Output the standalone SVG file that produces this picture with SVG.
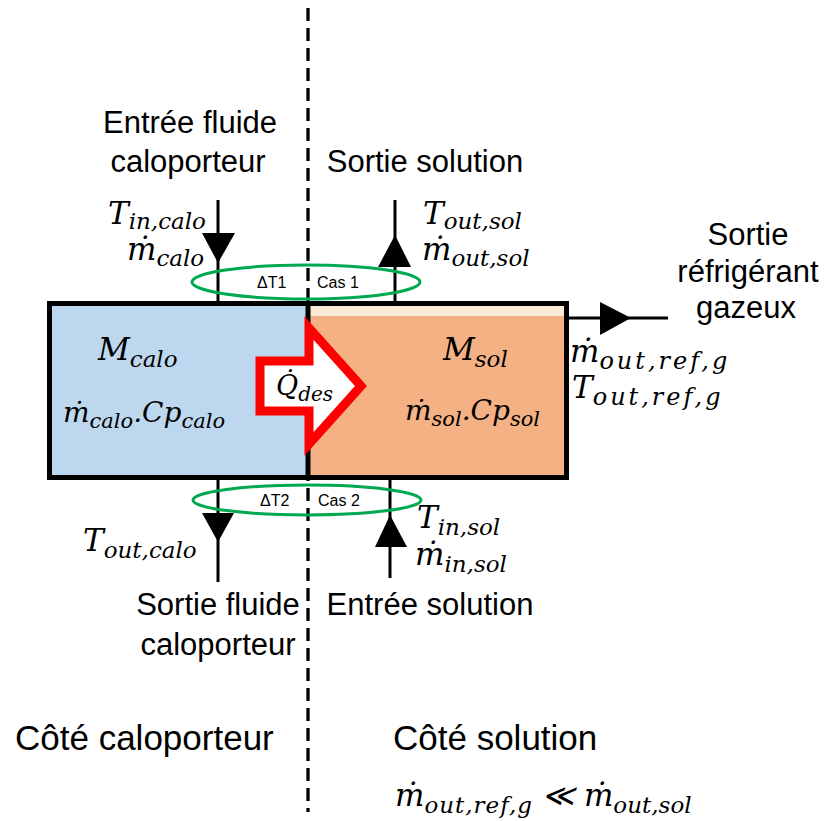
<svg xmlns="http://www.w3.org/2000/svg" width="831" height="821" viewBox="0 0 831 821">
<style>
.lbl{font-family:"Liberation Sans",Arial,sans-serif;font-size:31px;fill:#000;text-anchor:middle}
.big{font-family:"Liberation Sans",Arial,sans-serif;font-size:35px;fill:#000}
.sm{font-family:"Liberation Sans",Arial,sans-serif;font-size:16px;fill:#000}
.m{font-family:"DejaVu Serif","Liberation Serif",serif;font-style:italic;font-size:31px;fill:#000}
.s{font-size:23px}
.mb{font-size:28px}
.sb{font-size:21px}
.sr{font-size:24px;letter-spacing:3px}
.ln{stroke:#000;stroke-width:3;fill:none}
.ell{fill:none;stroke:#00A84F;stroke-width:3}
.head{fill:#000}
</style>
<rect width="831" height="821" fill="#fff"/>
<line x1="308" y1="8" x2="308" y2="812" stroke="#000" stroke-width="3.3" stroke-dasharray="13,7"/>
<g id="box">
<rect x="49.5" y="303.5" width="258.5" height="174" fill="#BDD7EE"/>
<rect x="308" y="303.5" width="258.5" height="174" fill="#F4B183"/>
<rect x="310" y="306" width="254" height="10" fill="#FBEBD6"/>
<line x1="308" y1="303.5" x2="308" y2="477.5" stroke="#000" stroke-width="5"/>
<rect x="49.5" y="303.5" width="517" height="174" fill="none" stroke="#000" stroke-width="5"/>
<text class="m" x="98" y="360">M<tspan class="s" dy="7">calo</tspan></text>
<text class="m mb" x="63" y="422">ṁ<tspan class="sb" dy="6">calo</tspan><tspan dy="-6">.Cp</tspan><tspan class="sb" dy="6">calo</tspan></text>
<text class="m" x="443" y="360">M<tspan class="s" dy="7">sol</tspan></text>
<text class="m mb" x="405" y="420">ṁ<tspan class="sb" dy="6">sol</tspan><tspan dy="-6">.Cp</tspan><tspan class="sb" dy="6">sol</tspan></text>
</g>
<g id="heat-arrow">
<path d="M260,361 H309 V328 L361,386 L309,444 V411 H260 Z" fill="#fff" stroke="#FF0000" stroke-width="9" stroke-linejoin="miter"/>
<text class="m" x="276" y="395" style="font-size:27px">Q̇<tspan style="font-size:20px" dy="6">des</tspan></text>
</g>
<g id="connectors">
<line class="ln" x1="218" y1="200" x2="218" y2="303"/>
<polygon class="head" points="202,233 235,233 218,263"/>
<line class="ln" x1="395" y1="200" x2="395" y2="303"/>
<polygon class="head" points="378,267 411,267 395,235"/>
<line class="ln" x1="218" y1="478" x2="218" y2="582"/>
<polygon class="head" points="202,513 234,513 218,542"/>
<line class="ln" x1="390" y1="478" x2="390" y2="578"/>
<polygon class="head" points="375,547 407,547 390,515"/>
<line class="ln" x1="567" y1="318" x2="668" y2="318"/>
<polygon class="head" points="600,302 600,335 631,318"/>
</g>
<g id="case1">
<ellipse class="ell" cx="306" cy="282" rx="114" ry="17"/>
<text class="sm" x="257" y="288">ΔT1</text>
<text class="sm" x="317" y="288">Cas 1</text>
</g>
<g id="case2">
<ellipse class="ell" cx="307" cy="500" rx="114" ry="15"/>
<text class="sm" x="260" y="506">ΔT2</text>
<text class="sm" x="318" y="506">Cas 2</text>
</g>
<g id="inlet-calo">
<text class="lbl" x="190" y="133">Entrée fluide</text>
<text class="lbl" x="188" y="172">caloporteur</text>
<text class="m" x="108" y="224">T<tspan class="s" dy="5">in,calo</tspan></text>
<text class="m" x="127" y="260">ṁ<tspan class="s" dy="6">calo</tspan></text>
</g>
<g id="outlet-sol">
<text class="lbl" x="425" y="172">Sortie solution</text>
<text class="m" x="423" y="224">T<tspan class="s" dy="5">out,sol</tspan></text>
<text class="m" x="422" y="260">ṁ<tspan class="s" dy="6">out,sol</tspan></text>
</g>
<g id="outlet-ref">
<text class="lbl" x="748" y="245">Sortie</text>
<text class="lbl" x="748" y="282">réfrigérant</text>
<text class="lbl" x="746" y="318">gazeux</text>
<text class="m" x="570" y="362">ṁ<tspan class="sr" dy="7">out,ref,g</tspan></text>
<text class="m" x="572" y="398">T<tspan class="sr" dy="7">out,ref,g</tspan></text>
</g>
<g id="outlet-calo">
<text class="m" x="83" y="551">T<tspan class="s" dy="7">out,calo</tspan></text>
<text class="lbl" x="218" y="615">Sortie fluide</text>
<text class="lbl" x="218" y="655">caloporteur</text>
</g>
<g id="inlet-sol">
<text class="m" x="417" y="528">T<tspan class="s" dy="7">in,sol</tspan></text>
<text class="m" x="415" y="565">ṁ<tspan class="s" dy="7">in,sol</tspan></text>
<text class="lbl" x="430" y="615">Entrée solution</text>
</g>
<g id="sides">
<text class="big" x="15" y="750">Côté caloporteur</text>
<text class="big" x="393" y="750">Côté solution</text>
<text class="m" x="395" y="806">ṁ<tspan class="s" dy="7" style="letter-spacing:1px">out,ref,g</tspan><tspan dx="9" dy="-7">≪</tspan><tspan dx="10">ṁ</tspan><tspan class="s" dy="7">out,sol</tspan></text>
</g>
</svg>
